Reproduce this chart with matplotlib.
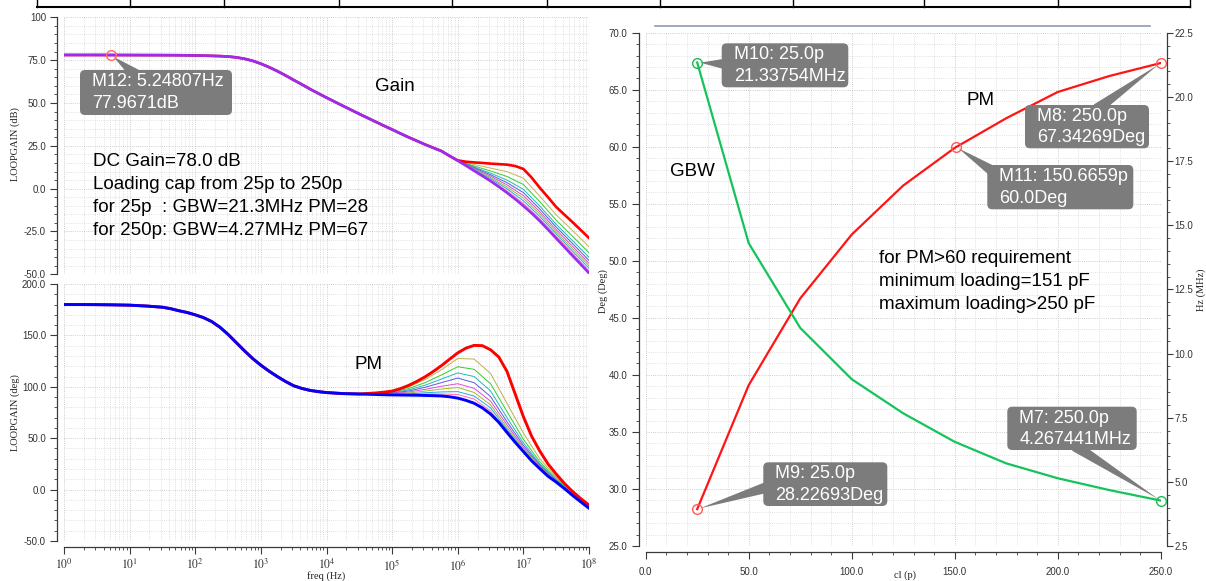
import numpy as np
import matplotlib
matplotlib.use("Agg")
import matplotlib.pyplot as plt
from matplotlib.lines import Line2D
from matplotlib.patches import FancyBboxPatch
from matplotlib.transforms import IdentityTransform
from matplotlib.ticker import (MultipleLocator, FuncFormatter, LogLocator, NullFormatter,
                               FixedLocator)

W, H = 1206, 581
DPI = 100

# ---------------- data ----------------
# common low-frequency part (all load caps coincide), log10(freq/Hz)
freq_exp_low = [0.0, 0.25, 0.5, 0.75, 1.0, 1.25, 1.5, 1.625, 1.75, 1.875, 2.0,
                2.125, 2.25, 2.375, 2.5, 2.625, 2.75, 2.875, 3.0, 3.125, 3.25,
                3.375, 3.5, 3.625, 3.75, 3.875, 4.0, 4.25, 4.5]
gain_low_db = [78.0, 78.0, 78.0, 77.97, 77.95, 77.92, 77.9, 77.88, 77.85, 77.8, 77.7,
               77.62, 77.5, 77.35, 77.1, 76.6, 75.8, 74.6, 72.9, 70.9, 68.6,
               66.1, 63.4, 60.8, 58.1, 55.6, 53.1, 48.3, 43.6]
phase_low_deg = [180.0, 180.0, 179.9, 179.7, 179.4, 178.6, 177.4, 176.0, 174.0, 172.3, 170.0,
                 167.3, 163.5, 158.0, 151.0, 143.0, 135.0, 127.5, 121.0, 115.2, 110.0,
                 105.2, 101.0, 98.4, 96.5, 95.3, 94.4, 93.4, 93.0]

load_caps_pf = [25, 50, 75, 100, 125, 150, 175, 200, 225, 250]
decade_exps = [0, 1, 2, 3, 4, 5, 6, 7, 8]

# high-frequency part of the thin (intermediate) curves
freq_exp_high = [4.75, 5.0, 5.25, 5.5, 5.75, 6.0, 6.25, 6.5, 6.75, 7.0,
                 7.25, 7.5, 7.75, 8.0]
gain_high_db = {
    50:  [39.0, 34.5, 30.0, 25.8, 22.0, 16.5, 14.1, 12.0, 9.9, 6.1, -4.4, -15.3, -24.5, -33.9],
    75:  [39.0, 34.5, 30.0, 25.8, 22.0, 16.4, 13.2, 10.3, 7.1, 2.4, -7.6, -18.4, -27.8, -37.4],
    100: [39.0, 34.5, 30.0, 25.8, 21.9, 16.4, 12.6, 9.0, 5.0, -0.4, -10.2, -20.8, -30.4, -40.1],
    125: [39.0, 34.5, 30.0, 25.8, 21.9, 16.4, 12.2, 8.1, 3.5, -2.3, -11.9, -22.4, -32.1, -41.9],
    150: [39.0, 34.5, 30.0, 25.8, 21.9, 16.4, 11.8, 7.3, 2.2, -4.1, -13.5, -23.9, -33.7, -43.6],
    175: [39.0, 34.5, 30.0, 25.8, 21.9, 16.3, 11.4, 6.5, 1.0, -5.6, -14.8, -25.2, -35.1, -45.0],
    200: [39.0, 34.5, 30.0, 25.8, 21.9, 16.3, 11.1, 5.8, -0.1, -7.1, -16.2, -26.4, -36.5, -46.4],
    225: [39.0, 34.5, 30.0, 25.8, 21.9, 16.3, 10.7, 5.1, -1.3, -8.6, -17.5, -27.7, -37.8, -47.9],
}
phase_high_deg = {
    50:  [93.8, 95.3, 99.8, 107.0, 116.5, 127.5, 127.0, 113.0, 84.0, 55.0, 30.0, 12.0, -3.2, -16.0],
    75:  [93.6, 94.8, 98.3, 104.0, 111.5, 119.5, 117.0, 103.0, 76.0, 49.0, 27.0, 10.5, -3.9, -16.5],
    100: [93.4, 94.3, 97.0, 101.5, 107.5, 113.5, 110.0, 96.0, 70.0, 45.5, 25.0, 9.6, -4.3, -16.9],
    125: [93.2, 93.9, 95.9, 99.5, 104.0, 108.5, 104.0, 90.5, 66.0, 43.0, 23.8, 9.0, -4.6, -17.2],
    150: [93.0, 93.5, 94.9, 97.5, 100.5, 103.0, 98.5, 86.0, 63.0, 41.0, 22.8, 8.5, -4.9, -17.5],
    175: [92.9, 93.1, 94.0, 95.8, 97.8, 99.3, 94.5, 82.5, 60.5, 39.5, 22.0, 8.1, -5.1, -17.7],
    200: [92.7, 92.7, 93.1, 94.2, 95.0, 95.3, 91.0, 79.5, 58.5, 38.5, 21.3, 7.8, -5.3, -17.9],
    225: [92.6, 92.4, 92.5, 93.0, 93.0, 92.5, 88.0, 76.5, 57.0, 37.7, 20.8, 7.5, -5.5, -18.0],
}

# high-frequency part of the two thick (25p and 250p) curves, finer sampling
freq_exp_fine = [4.75, 4.875, 5.0, 5.125, 5.25, 5.375, 5.5, 5.625, 5.75, 5.875,
                 6.0, 6.125, 6.25, 6.375, 6.5, 6.625, 6.75, 6.875, 7.0, 7.125,
                 7.25, 7.375, 7.5, 7.625, 7.75, 7.875, 8.0]
gain_fine_db = {
    25:  [39.0, 36.7, 34.5, 32.2, 30.0, 27.9, 25.8, 23.9, 22.0, 19.0,
          16.5, 15.7, 15.3, 15.0, 14.6, 14.3, 14.0, 13.2, 11.5, 6.5,
          0.5, -5.0, -10.7, -15.2, -19.6, -24.2, -28.8],
    250: [39.0, 36.7, 34.5, 32.2, 30.0, 27.9, 25.8, 23.8, 21.9, 19.2,
          16.3, 13.4, 10.4, 7.4, 4.4, 1.1, -2.4, -6.1, -10.1, -14.3,
          -18.9, -23.9, -29.0, -34.1, -39.2, -44.2, -49.3],
}
phase_fine_deg = {
    25:  [94.0, 94.8, 95.8, 98.2, 101.3, 105.2, 109.6, 114.8, 120.5, 126.8,
          133.0, 137.6, 140.3, 140.0, 136.0, 129.0, 115.0, 93.0, 71.0, 52.0,
          37.5, 25.0, 15.1, 6.0, -1.9, -8.8, -15.0],
    250: [92.5, 92.3, 92.1, 92.0, 91.9, 91.8, 91.6, 91.4, 91.1, 90.3,
          89.0, 86.8, 84.0, 79.5, 73.5, 65.5, 55.6, 46.0, 37.0, 28.0,
          20.4, 13.0, 7.3, 1.0, -5.7, -12.0, -18.1],
}

gain_colors = ['#ff0000', '#c8b25a', '#33cc33', '#22b8b8', '#4a5ee8', '#d94ad9',
               '#9cbc2a', '#2aa6ea', '#ff6fae', '#9a2cf2']
phase_colors = ['#ff0000', '#bdb04a', '#33cc33', '#22b8b8', '#5a5ae0', '#e04ae0',
                '#9cbc2a', '#2aa6ea', '#ff6fae', '#0000ff']

cl_pf = [25, 50, 75, 100, 125, 150, 175, 200, 225, 250]
pm_deg = [28.23, 39.1, 46.7, 52.3, 56.6, 59.9, 62.5, 64.8, 66.2, 67.34]
gbw_mhz = [21.34, 14.3, 11.0, 9.0, 7.67, 6.56, 5.72, 5.14, 4.68, 4.27]

m12 = (5.24807, 77.9671)
m10 = (25.0, 21.33754)
m9 = (25.0, 28.22693)
m11 = (150.6659, 60.0)
m8 = (250.0, 67.34269)
m7 = (250.0, 4.267441)

# ---------------- figure ----------------
plt.rcParams['font.family'] = ['Liberation Sans', 'DejaVu Sans']
plt.rcParams['mathtext.fontset'] = 'stix'

fig = plt.figure(figsize=(W / DPI, H / DPI), dpi=DPI)
fig.patch.set_facecolor('white')
ID = IdentityTransform()


def px_axes(x0, y0, x1, y1):
    return fig.add_axes([x0 / W, 1 - y1 / H, (x1 - x0) / W, (y1 - y0) / H])


GRID_MAJ = dict(color='#bdbdbd', linestyle=(0, (1, 1.6)), linewidth=0.6)
GRID_MIN = dict(color='#d6d6d6', linestyle=(0, (1, 1.6)), linewidth=0.6)
SPINE = '#3a3a3a'
TICKC = '#333333'
SERIF = ['Liberation Serif', 'DejaVu Serif']


def style_axis(ax, grid=True):
    for s in ax.spines.values():
        s.set_color(SPINE)
        s.set_linewidth(0.9)
    ax.tick_params(which='major', length=5, width=0.8, color=SPINE, labelsize=7,
                   labelcolor=TICKC, pad=3)
    ax.tick_params(which='minor', length=2.5, width=0.6, color=SPINE)
    if grid:
        ax.grid(True, which='major', **GRID_MAJ)
        ax.grid(True, which='minor', **GRID_MIN)
    ax.set_axisbelow(True)


fmt1 = FuncFormatter(lambda v, p: f'{v:.1f}')

# ---- left: gain & phase ----
f_low = [10 ** e for e in freq_exp_low]
f_high = [10 ** e for e in freq_exp_high]
f_fine = [10 ** e for e in freq_exp_fine]
decades = [10.0 ** k for k in decade_exps]

ax_g = px_axes(64, 17.3, 589, 274.3)
ax_p = px_axes(64, 284, 589, 541)
for ax in (ax_g, ax_p):
    ax.set_xscale('log')
    ax.set_xlim(1, 1e8)
    ax.xaxis.set_major_locator(FixedLocator(decades))
    ax.xaxis.set_minor_locator(LogLocator(base=10, subs=np.arange(2, 10), numticks=200))
    ax.xaxis.set_minor_formatter(NullFormatter())
    style_axis(ax)
    ax.spines['top'].set_visible(False)
    ax.spines['right'].set_visible(False)
    ax.spines['left'].set_position(('outward', 5))

ax_g.spines['bottom'].set_visible(False)
ax_g.tick_params(axis='x', which='both', length=0, labelbottom=False)
ax_g.set_ylim(-50, 100)
ax_g.yaxis.set_major_locator(MultipleLocator(25))
ax_g.yaxis.set_minor_locator(MultipleLocator(5))
ax_g.yaxis.set_major_formatter(FuncFormatter(lambda v, p: '100' if abs(v - 100) < 1e-9 else f'{v:.1f}'))

ax_p.spines['bottom'].set_position(('outward', 4))
ax_p.set_ylim(-50, 200)
ax_p.yaxis.set_major_locator(MultipleLocator(50))
ax_p.yaxis.set_minor_locator(MultipleLocator(10))
ax_p.yaxis.set_major_formatter(fmt1)
ax_p.xaxis.set_major_formatter(FuncFormatter(lambda v, p: r'$10^{%d}$' % round(np.log10(v))))
ax_p.tick_params(axis='x', which='major', labelsize=8.5, pad=3)

n = len(load_caps_pf)
order = [0] + list(range(1, n - 1)) + [n - 1]
for i in order:
    c = load_caps_pf[i]
    if c in gain_fine_db:
        fx = f_low + f_fine
        gy = gain_low_db + gain_fine_db[c]
        py = phase_low_deg + phase_fine_deg[c]
        lw_g, lw_p, z = 1.9, 2.1, 3
    else:
        fx = f_low + f_high
        gy = gain_low_db + gain_high_db[c]
        py = phase_low_deg + phase_high_deg[c]
        lw_g, lw_p, z = 0.7, 0.7, 2.5
    ax_g.plot(fx, gy, color=gain_colors[i], lw=lw_g, zorder=z, solid_joinstyle='round')
    ax_p.plot(fx, py, color=phase_colors[i], lw=lw_p, zorder=z, solid_joinstyle='round')

ax_g.plot([m12[0]], [m12[1]], 'o', ms=7, mfc='none', mec='#ff6a6a', mew=1.0, zorder=5)

# ---- right: PM & GBW vs cl ----
ax_r = px_axes(645.7, 32.7, 1160.7, 546)
ax_r2 = ax_r.twinx()
style_axis(ax_r)
style_axis(ax_r2, grid=False)
ax_r.set_xlim(0, 250)
ax_r.set_ylim(25, 70)
ax_r2.set_ylim(2.5, 22.5)
ax_r.xaxis.set_major_locator(MultipleLocator(50))
ax_r.xaxis.set_minor_locator(MultipleLocator(10))
ax_r.yaxis.set_major_locator(MultipleLocator(5))
ax_r.yaxis.set_minor_locator(MultipleLocator(1))
ax_r2.yaxis.set_major_locator(MultipleLocator(2.5))
ax_r2.yaxis.set_minor_locator(MultipleLocator(0.5))
ax_r.xaxis.set_major_formatter(fmt1)
ax_r.yaxis.set_major_formatter(fmt1)
ax_r2.yaxis.set_major_formatter(fmt1)
ax_r.spines['top'].set_visible(False)
ax_r.spines['right'].set_visible(False)
ax_r.spines['left'].set_position(('outward', 5))
ax_r.spines['bottom'].set_position(('outward', 4))
for s in ('top', 'left', 'bottom'):
    ax_r2.spines[s].set_visible(False)
ax_r2.spines['right'].set_position(('outward', 4.5))
ax_r2.tick_params(axis='y', which='major', pad=1.5, length=4)
ax_r.tick_params(axis='x', which='major', pad=6)

ax_r.plot(cl_pf, pm_deg, color='#ff1414', lw=1.6, zorder=3)
ax_r2.plot(cl_pf, gbw_mhz, color='#14c45a', lw=1.6, zorder=3)
for pt in (m9, m11, m8):
    ax_r.plot([pt[0]], [pt[1]], 'o', ms=7, mfc='none', mec='#ff5a5a', mew=1.0, zorder=5, clip_on=False)
for pt in (m10, m7):
    ax_r2.plot([pt[0]], [pt[1]], 'o', ms=7, mfc='none', mec='#22b85a', mew=1.0, zorder=5, clip_on=False)

# ---------------- callouts ----------------
BOX = '#7c7c7c'


def callout(ax, xy, lines, box, base):
    x0, y0, x1, y1 = box
    ax.annotate('', xy=xy, xycoords='data', xytext=(base[0], H - base[1]),
                textcoords='figure pixels',
                arrowprops=dict(arrowstyle='wedge,tail_width=0.8,shrink_factor=0.5',
                                fc=BOX, ec='none', shrinkA=0, shrinkB=2,
                                mutation_scale=10),
                annotation_clip=False)
    p = FancyBboxPatch((x0, H - y1), x1 - x0, y1 - y0,
                       boxstyle='round,pad=0,rounding_size=5',
                       transform=ID, fc=BOX, ec='none', zorder=10)
    fig.add_artist(p)
    fig.text(x0 + 12, H - (y0 + 11.5), lines[0], transform=ID, color='white',
             fontsize=13, ha='left', va='center', zorder=11)
    fig.text(x0 + 12, H - (y1 - 11), lines[1], transform=ID, color='white',
             fontsize=13, ha='left', va='center', zorder=11)


callout(ax_g, m12, ['M12: 5.24807Hz', '77.9671dB'], (80, 70, 232, 115), (135, 74))
callout(ax_r2, m10, ['M10: 25.0p', '21.33754MHz'], (721.7, 43.3, 848.3, 87.3), (726, 64))
callout(ax_r, m8, ['M8: 250.0p', '67.34269Deg'], (1025, 105, 1149, 148.3), (1097, 109))
callout(ax_r, m11, ['M11: 150.6659p', '60.0Deg'], (987.3, 165, 1133.3, 209.3), (994, 172))
callout(ax_r, m9, ['M9: 25.0p', '28.22693Deg'], (763.3, 462.3, 887.3, 506), (768, 487))
callout(ax_r2, m7, ['M7: 250.0p', '4.267441MHz'], (1007.3, 406.7, 1136.7, 450), (1075, 446))


# ---------------- free texts ----------------
def ftext(x, y, s, **kw):
    d = dict(transform=ID, color='black', fontsize=13.5, ha='left', va='center')
    d.update(kw)
    fig.text(x, H - y, s, **d)


ftext(375, 86.7, 'Gain')
info_lines = ['DC Gain=78.0 dB', 'Loading cap from 25p to 250p',
              'for 25p  : GBW=21.3MHz PM=28', 'for 250p: GBW=4.27MHz PM=67']
for k, s in enumerate(info_lines):
    ftext(92.7, 161 + 23.3 * k, s)
ftext(354.3, 364.3, 'PM')
ftext(670, 171, 'GBW')
ftext(966.7, 100.7, 'PM')
req_lines = ['for PM>60 requirement', 'minimum loading=151 pF', 'maximum loading>250 pF']
for k, s in enumerate(req_lines):
    ftext(879, 258.3 + 23.2 * k, s)

# axis labels
lab = dict(transform=ID, color='#222222', fontsize=7.5, family=SERIF, ha='center', va='center')
fig.text(15, H - 144, 'LOOPGAIN (dB)', rotation=90, **lab)
fig.text(15, H - 413, 'LOOPGAIN (deg)', rotation=90, **lab)
fig.text(326, H - 576, 'freq (Hz)', **lab)
fig.text(905, H - 575.5, 'cl (p)', **lab)
fig.text(603, H - 291, 'Deg (Deg)', rotation=90, **lab)
fig.text(1201, H - 290, 'Hz (MHz)', rotation=90, **lab)

# ---------------- decorations ----------------
fig.add_artist(Line2D([655, 1150], [H - 26, H - 26], transform=ID, color='#8f9bab', lw=1.2))
fig.add_artist(Line2D([37, 1190], [H - 7, H - 7], transform=ID, color='black', lw=1.5))
for xv in [37, 130, 224, 339, 452, 547, 660, 793, 924, 1058, 1190]:
    fig.add_artist(Line2D([xv, xv], [H - 7, H + 1], transform=ID, color='black', lw=1.0))

fig.savefig('out.png', dpi=DPI)
